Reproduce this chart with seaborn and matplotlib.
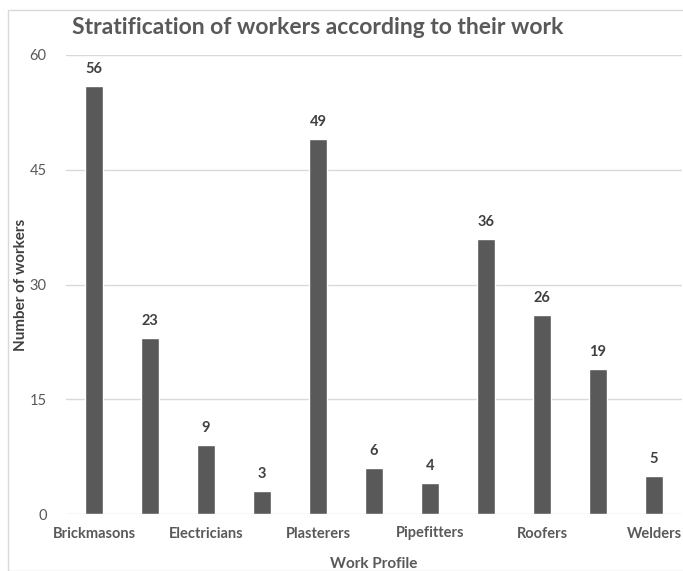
import matplotlib
matplotlib.use("Agg")
import matplotlib.pyplot as plt
import seaborn as sns
import pandas as pd
from matplotlib.patches import Rectangle

categories = ["Brickmasons", "Carpenters", "Electricians", "Glaziers", "Plasterers",
              "Painters", "Pipefitters", "Plumbers", "Roofers", "Sheet Metal Workers", "Welders"]
workers = [56, 23, 9, 3, 49, 6, 4, 36, 26, 19, 5]
y_ticks = [0, 15, 30, 45, 60]

df = pd.DataFrame({"Work Profile": categories, "Number of workers": workers})

sns.set_theme(style="white")
plt.rcParams["font.family"] = ["Lato", "DejaVu Sans"]

fig = plt.figure(figsize=(6.83, 5.71), dpi=100)
ax = fig.add_axes([66/683, 1-514/571, 616/683, (514-55)/571])

sns.barplot(data=df, x="Work Profile", y="Number of workers", color="#595959",
            width=0.32, saturation=1, ax=ax, zorder=3)

for i, v in enumerate(workers):
    ax.text(i, v + 1.3, str(v), ha="center", va="bottom", fontsize=10.5,
            color="#404040", fontweight="bold")

ax.set_ylim(0, 60)
ax.set_xlim(-0.5, len(categories) - 0.5)
ax.set_yticks(y_ticks)
ax.set_yticklabels([str(t) for t in y_ticks], fontsize=10.5, color="#595959")
ax.set_xticks(range(len(categories)))
ax.set_xticklabels([c if i % 2 == 0 else "" for i, c in enumerate(categories)],
                   fontsize=10.5, color="#595959", fontweight="bold")
ax.tick_params(axis="both", length=0)
ax.tick_params(axis="y", pad=14)
ax.tick_params(axis="x", pad=9)
ax.yaxis.grid(True, color="#d9d9d9", linewidth=1, zorder=0)
ax.set_axisbelow(True)
for s in ax.spines.values():
    s.set_visible(False)

ax.set_xlabel("Work Profile", fontsize=11, color="#595959", fontweight="bold", labelpad=12)
ax.set_ylabel("Number of workers", fontsize=11, color="#404040", fontweight="bold", labelpad=1)

fig.text(72/683, 1-28/571, "Stratification of workers according to their work",
         fontsize=16.5, color="#595959", fontweight="bold", ha="left", va="center")

fig.patches.append(Rectangle((8/683, 0), 1, 1-10/571, transform=fig.transFigure,
                             fill=False, edgecolor="#d9d9d9", linewidth=1))

fig.savefig("out.png", dpi=100)
